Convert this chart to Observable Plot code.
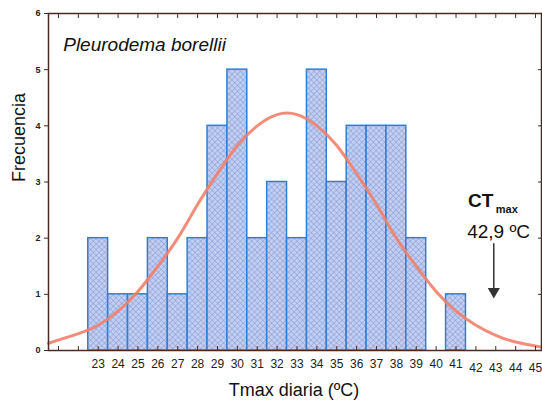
<!DOCTYPE html>
<html><head><meta charset="utf-8">
<script src="https://cdn.jsdelivr.net/npm/d3@7"></script>
<script src="https://cdn.jsdelivr.net/npm/@observablehq/plot@0.6"></script>
<style>body{margin:0;background:#fff} svg{display:block}</style>
</head><body><div id="chart"></div>
<script>
// Histogram: Tmax diaria (ºC) vs Frecuencia
const temps = [23,24,25,26,27,28,29,30,31,32,33,34,35,36,37,38,39,40,41];
const freqs = [2,1,1,2,1,2,4,5,2,3,2,5,3,4,4,4,2,0,1];
// fitted normal curve
const curveX = [20.5,22,23,24,25,26,27,28,29,30,31,32,33,34,35,36,37,38,39,40,41,42,43,44,45.3];
const curveY = [0.13,0.3,0.45,0.7,1.05,1.5,2.0,2.6,3.15,3.65,4.0,4.2,4.2,4.0,3.65,3.15,2.6,2.0,1.5,1.05,0.7,0.45,0.27,0.15,0.06];
const xTicks = d3.range(21,46);
const xLabelsA = d3.range(23,42);
const xLabelsB = d3.range(42,46);
const yTicks = [0,1,2,3,4,5,6];
const ctmax = 42.9;
const arrowY = [1.9, 1.05];
const titleText = "Pleurodema borellii";
const yLabel = "Frecuencia";
const xLabel = "Tmax diaria (ºC)";
const annotations = [
  {x: 21.24, y: 5.34, text: titleText, size: 19, weight: "normal", style: "italic"},
  {x: 41.6, y: 2.55, text: "CT", size: 19, weight: "bold", style: "normal"},
  {x: 43.0, y: 2.44, text: "max", size: 11, weight: "bold", style: "normal"},
  {x: 41.56, y: 2.01, text: "42,9 ºC", size: 19, weight: "normal", style: "normal"}
];

const bars = temps.map((t,i)=>({t, f: freqs[i]})).filter(d=>d.f>0);
const curve = curveX.map((x,i)=>({x, y: curveY[i]}));
const axisColor = "#4a2a22";

const plot = Plot.plot({
  width: 542, height: 404,
  marginLeft: 48, marginRight: 1, marginTop: 13, marginBottom: 54,
  style: {fontFamily: "'Liberation Sans', Arial, sans-serif", background: "#fff"},
  x: {domain: [20.5, 45.3]},
  y: {domain: [0, 6]},
  marks: [
    Plot.rectY(bars, {x1: d=>d.t-0.5, x2: d=>d.t+0.5, y: "f", fill: "url(#hatch)", stroke: "#2f7fd6", strokeWidth: 1.5}),
    Plot.line(curve, {x: "x", y: "y", curve: "natural", stroke: "#f3806a", strokeWidth: 3, strokeOpacity: 0.9}),
    Plot.axisX({ticks: xTicks, tickSize: -4, tickFormat: () => "", stroke: axisColor, label: null}),
    Plot.axisX({anchor: "top", ticks: xTicks, tickSize: -4, tickFormat: () => "", stroke: axisColor, label: null}),
    Plot.axisX({ticks: xLabelsA, tickSize: 0, tickPadding: 9, fontSize: 12, fill: "#222", label: null}),
    Plot.axisX({ticks: xLabelsB, tickSize: 0, tickPadding: 13, fontSize: 12, fill: "#222", label: null}),
    Plot.axisY({ticks: yTicks, tickSize: 4, tickPadding: 4, tickFormat: d3.format("d"), fontSize: 9, fontWeight: "bold", fill: "#222", stroke: axisColor, label: null}),
    Plot.axisY({anchor: "right", ticks: yTicks, tickSize: -4, tickFormat: () => "", stroke: axisColor, label: null}),
    Plot.frame({stroke: axisColor, strokeWidth: 1.5}),
    Plot.ruleX([ctmax], {y1: arrowY[0], y2: arrowY[1], stroke: "#333", strokeWidth: 1.5}),
    Plot.dot([ctmax], {x: d=>d, y: arrowY[1], symbol: "triangle", rotate: 180, r: 4.5, fill: "#333", stroke: "none"}),
    Plot.text(annotations, {x: "x", y: "y", text: "text", fontSize: d=>d.size, textAnchor: "start", lineAnchor: "bottom", fill: "#111"}),
    Plot.text([yLabel], {frameAnchor: "left", rotate: -90, dx: -24, fontSize: 18, fill: "#111", lineAnchor: "bottom"}),
    Plot.text([xLabel], {frameAnchor: "bottom", dy: 45, dx: -1, fontSize: 18, fill: "#111", lineAnchor: "bottom"})
  ]
});

// style annotations individually
const svg = d3.select(plot);
svg.selectAll("text").each(function(){
  const t = this.textContent;
  const a = annotations.find(a=>a.text===t);
  if (a) { this.setAttribute("font-weight", a.weight); this.setAttribute("font-style", a.style); this.setAttribute("font-size", a.size); }
});
const defs = svg.insert("defs", ":first-child");
const pat = defs.append("pattern").attr("id","hatch").attr("patternUnits","userSpaceOnUse")
  .attr("width",4).attr("height",4).attr("patternTransform","rotate(45)");
pat.append("rect").attr("width",4).attr("height",4).attr("fill","#c2cff0");
pat.append("line").attr("x1",0).attr("y1",0).attr("x2",4).attr("y2",0).attr("stroke","#8198d6").attr("stroke-width",1);
pat.append("line").attr("x1",0).attr("y1",0).attr("x2",0).attr("y2",4).attr("stroke","#8198d6").attr("stroke-width",1);
document.getElementById("chart").appendChild(plot);
</script>
</body></html>
